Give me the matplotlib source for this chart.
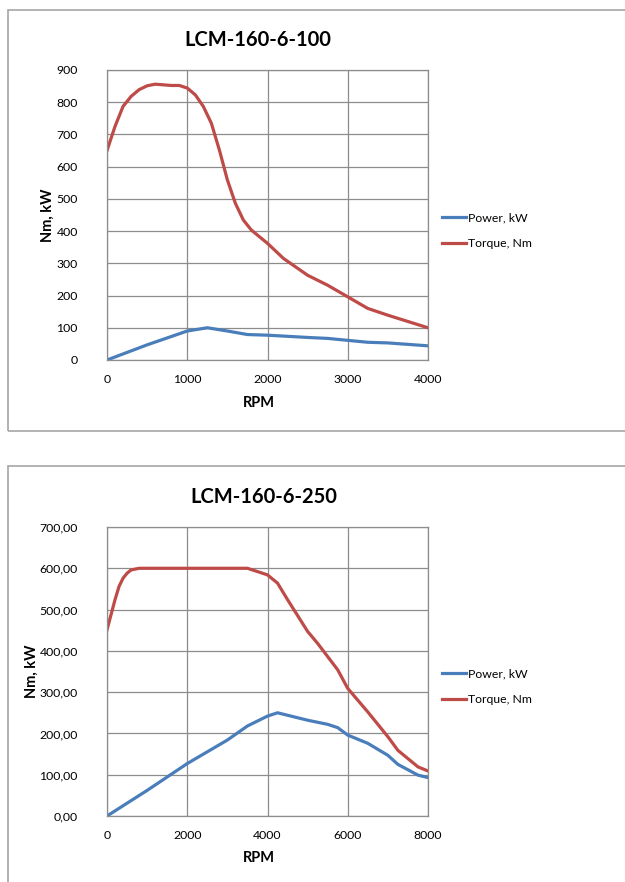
import matplotlib
matplotlib.use("Agg")
import matplotlib.pyplot as plt
from matplotlib.patches import Rectangle

plt.rcParams['font.family'] = ['Lato', 'DejaVu Sans']

# chart 1: LCM-160-6-100
rpm1 = [0, 100, 200, 300, 400, 500, 600, 800, 900, 1000, 1100, 1200, 1300, 1400,
        1500, 1600, 1700, 1800, 2000, 2200, 2500, 2750, 3000, 3250, 3500, 4000]
torque1 = [650, 725, 787, 818, 839, 851, 856, 852, 852, 844, 823, 787, 735, 652,
           559, 486, 434, 403, 362, 315, 263, 232, 196, 160, 139, 100]
rpm1_p = [0, 500, 1000, 1250, 1500, 1750, 2000, 2500, 2750, 3000, 3250, 3500, 4000]
power1 = [0, 47, 90, 100, 90, 79, 77, 70, 67, 61, 55, 53, 44]

# chart 2: LCM-160-6-250
rpm2 = [0, 200, 300, 400, 500, 600, 800, 1000, 2000, 3000, 3500, 3750, 4000, 4250,
        4500, 5000, 5250, 5500, 5750, 6000, 6500, 7000, 7250, 7500, 7750, 8000]
torque2 = [451, 524, 556, 576, 588, 596, 600, 600, 600, 600, 600, 592, 584, 564,
           524, 447, 418, 386, 354, 309, 252, 192, 159, 139, 119, 109]
rpm2_p = [0, 1000, 2000, 3000, 3500, 4000, 4250, 4500, 5000, 5500, 5750, 6000,
          6500, 7000, 7250, 7500, 7750, 8000]
power2 = [0, 62, 127, 184, 218, 242, 250, 244, 232, 222, 214, 196, 176, 147,
          125, 112, 99, 93]

yticks1 = [0, 100, 200, 300, 400, 500, 600, 700, 800, 900]
yticks2 = [0, 100, 200, 300, 400, 500, 600, 700]
ylabels2 = ['0,00', '100,00', '200,00', '300,00', '400,00', '500,00', '600,00', '700,00']

BLUE = '#4a7ebb'
RED = '#be4b48'
GRID = '#8c8c8c'

fig = plt.figure(figsize=(6.25, 8.82), dpi=100)

# chart frames
fig.patches.append(Rectangle((8 / 625, 1 - 431 / 882), 1.0, 421 / 882,
                             transform=fig.transFigure, fill=False,
                             edgecolor='#a6a6a6', lw=1.2))
fig.patches.append(Rectangle((8 / 625, -0.05), 1.0, 0.05 + 1 - 466 / 882,
                             transform=fig.transFigure, fill=False,
                             edgecolor='#a6a6a6', lw=1.2))

ax1 = fig.add_axes([107 / 625, 1 - 360 / 882, 321 / 625, 290 / 882])
ax2 = fig.add_axes([107 / 625, 1 - 816 / 882, 321 / 625, 289 / 882])


def style(ax, title, xmax, xticks, yticks, ylabels, ylab_x, title_x):
    ax.set_xlim(0, xmax)
    ax.set_ylim(yticks[0], yticks[-1])
    ax.set_xticks(xticks)
    ax.set_yticks(yticks)
    ax.set_yticklabels(ylabels)
    ax.grid(True, color=GRID, lw=0.9)
    ax.set_axisbelow(True)
    for s in ax.spines.values():
        s.set_color(GRID)
        s.set_linewidth(0.9)
    ax.tick_params(axis='y', length=0, pad=21, labelsize=8.8, colors='#000000')
    ax.tick_params(axis='x', length=0, pad=10, labelsize=8.8, colors='#000000')
    ax.text(title_x, 1.105, title, transform=ax.transAxes, ha='center',
            va='center', fontsize=14.5, fontweight='bold')
    ax.text(0.474, -0.147, 'RPM', transform=ax.transAxes, ha='center',
            va='center', fontsize=10.5, fontweight='bold')
    ax.text(ylab_x, 0.5, 'Nm, kW', transform=ax.transAxes, ha='center',
            va='center', rotation=90, fontsize=10.5, fontweight='bold')
    ax.legend(loc='center left', bbox_to_anchor=(1.043, 0.446), frameon=False,
              borderpad=0, borderaxespad=0, handlelength=2.0,
              handletextpad=0.15, labelspacing=1.2, fontsize=8.8)


ax1.plot(rpm1_p, power1, color=BLUE, lw=2.3, label='Power, kW')
ax1.plot(rpm1, torque1, color=RED, lw=2.3, label='Torque, Nm')
style(ax1, 'LCM-160-6-100', 4000, [0, 1000, 2000, 3000, 4000], yticks1,
      [str(v) for v in yticks1], -0.184, 0.47)

ax2.plot(rpm2_p, power2, color=BLUE, lw=2.3, label='Power, kW')
ax2.plot(rpm2, torque2, color=RED, lw=2.3, label='Torque, Nm')
style(ax2, 'LCM-160-6-250', 8000, [0, 2000, 4000, 6000, 8000], yticks2,
      ylabels2, -0.234, 0.489)

fig.savefig('out.png', dpi=100)
